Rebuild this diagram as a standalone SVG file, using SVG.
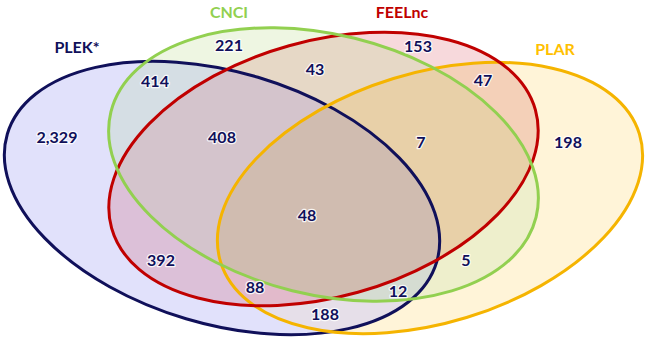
<svg xmlns="http://www.w3.org/2000/svg" xmlns:xlink="http://www.w3.org/1999/xlink" width="650" height="342" viewBox="0 0 650 342">
<style>
.num{font-family:Lato,"Open Sans","Liberation Sans",sans-serif;font-weight:700;font-size:16px;fill:#10105a;text-anchor:middle;stroke:#ffffff;stroke-width:2.5px;stroke-opacity:0.85;paint-order:stroke;stroke-linejoin:round}
.lbl{font-family:Lato,"Open Sans","Liberation Sans",sans-serif;font-weight:700;font-size:16px;text-anchor:middle}
.ol{fill:none;stroke-width:3}
</style>
<defs>
<ellipse id="eP" cx="222" cy="198" rx="224" ry="126" transform="rotate(16.6 222 198)"/>
<ellipse id="eC" cx="323.5" cy="164.5" rx="219" ry="130" transform="rotate(13.9 323.5 164.5)"/>
<ellipse id="eF" cx="323.5" cy="169" rx="220" ry="128" transform="rotate(-15.6 323.5 169)"/>
<ellipse id="eL" cx="430" cy="198" rx="219" ry="125" transform="rotate(-17 430 198)"/>
<clipPath id="cP"><use xlink:href="#eP"/></clipPath>
<clipPath id="cC"><use xlink:href="#eC"/></clipPath>
<clipPath id="cF"><use xlink:href="#eF"/></clipPath>
<clipPath id="cL"><use xlink:href="#eL"/></clipPath>
</defs>
<g id="regions">
<use xlink:href="#eP" fill="#e1e1fb"/>
<use xlink:href="#eC" fill="#eef6e2"/>
<use xlink:href="#eF" fill="#f7d9dc"/>
<use xlink:href="#eL" fill="#fff4d8"/>
<g clip-path="url(#cP)"><use xlink:href="#eC" fill="#d5dee4"/></g>
<g clip-path="url(#cP)"><use xlink:href="#eF" fill="#dcc0d8"/></g>
<g clip-path="url(#cP)"><use xlink:href="#eL" fill="#e6dfe9"/></g>
<g clip-path="url(#cC)"><use xlink:href="#eF" fill="#e6d8c6"/></g>
<g clip-path="url(#cC)"><use xlink:href="#eL" fill="#eeefcc"/></g>
<g clip-path="url(#cF)"><use xlink:href="#eL" fill="#f4d0b8"/></g>
<g clip-path="url(#cP)"><g clip-path="url(#cC)"><use xlink:href="#eF" fill="#d4c4cc"/></g></g>
<g clip-path="url(#cP)"><g clip-path="url(#cF)"><use xlink:href="#eL" fill="#e2bacb"/></g></g>
<g clip-path="url(#cP)"><g clip-path="url(#cC)"><use xlink:href="#eL" fill="#d5dcd2"/></g></g>
<g clip-path="url(#cC)"><g clip-path="url(#cF)"><use xlink:href="#eL" fill="#e8d0a8"/></g></g>
<g clip-path="url(#cP)"><g clip-path="url(#cC)"><g clip-path="url(#cF)"><use xlink:href="#eL" fill="#d0bcb0"/></g></g></g>
</g>
<g id="set-plek"><use xlink:href="#eP" class="ol" stroke="#10105a"/><text class="lbl" x="77" y="53" fill="#10105a">PLEK*</text></g>
<g id="set-plar"><use xlink:href="#eL" class="ol" stroke="#f5b400"/><text class="lbl" x="555" y="55" fill="#ffc000">PLAR</text></g>
<g id="set-feelnc"><use xlink:href="#eF" class="ol" stroke="#c00000"/><text class="lbl" x="402" y="18" fill="#c00000">FEELnc</text></g>
<g id="set-cnci"><use xlink:href="#eC" class="ol" stroke="#92d050"/><text class="lbl" x="229" y="18" fill="#92d050">CNCI</text></g>
<g id="counts">
<text class="num" x="57" y="143">2,329</text>
<text class="num" x="229" y="51">221</text>
<text class="num" x="418" y="52">153</text>
<text class="num" x="568" y="148">198</text>
<text class="num" x="155" y="87">414</text>
<text class="num" x="315" y="75">43</text>
<text class="num" x="483" y="86">47</text>
<text class="num" x="222" y="143">408</text>
<text class="num" x="421" y="148">7</text>
<text class="num" x="307" y="221">48</text>
<text class="num" x="161" y="266">392</text>
<text class="num" x="466" y="266">5</text>
<text class="num" x="255" y="293">88</text>
<text class="num" x="398" y="297">12</text>
<text class="num" x="325" y="320">188</text>
</g>
</svg>
